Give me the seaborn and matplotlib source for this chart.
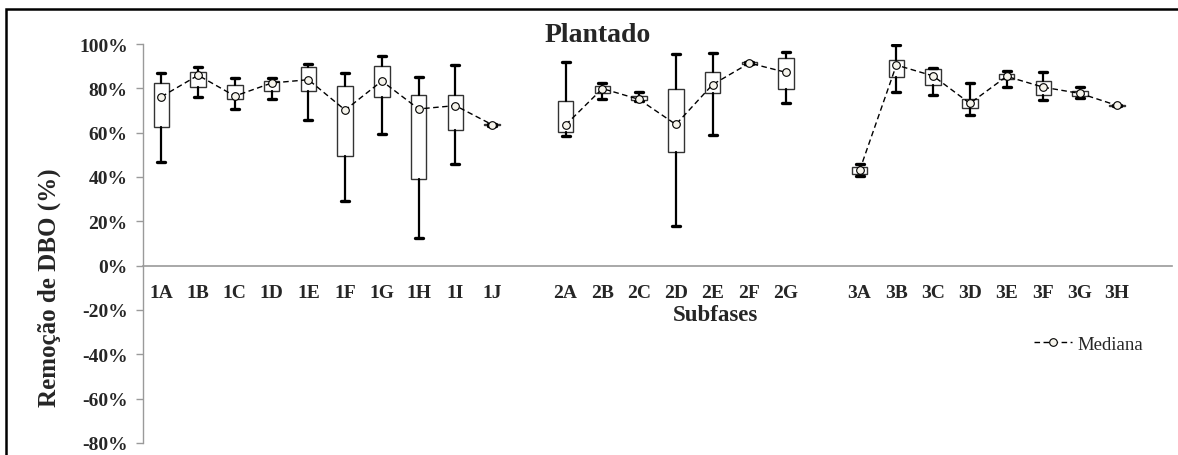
import numpy as np
import pandas as pd
import matplotlib
matplotlib.use("Agg")
import matplotlib.pyplot as plt
import seaborn as sns
from matplotlib.patches import Rectangle

# ---------------- data (values in %) ----------------
cats_1 = ["1A", "1B", "1C", "1D", "1E", "1F", "1G", "1H", "1I", "1J"]
cats_2 = ["2A", "2B", "2C", "2D", "2E", "2F", "2G"]
cats_3 = ["3A", "3B", "3C", "3D", "3E", "3F", "3G", "3H"]

min_1 = [46.9, 76.0, 70.8, 75.3, 65.6, 29.3, 59.4, 12.4, 45.7, 63.2]
q1_1 = [62.6, 80.7, 75.4, 79.0, 79.0, 49.4, 76.0, 39.1, 61.2, 63.4]
med_1 = [76.2, 85.9, 76.5, 82.4, 83.9, 70.2, 83.3, 70.7, 72.2, 63.6]
q3_1 = [82.3, 87.4, 81.4, 83.3, 89.4, 80.9, 90.0, 76.9, 76.9, 63.8]
max_1 = [87.0, 89.6, 84.7, 84.7, 91.2, 86.7, 94.6, 85.0, 90.6, 64.0]

min_2 = [58.6, 75.4, 74.1, 17.9, 59.1, 90.8, 73.4]
q1_2 = [60.3, 77.7, 74.6, 51.2, 77.7, 91.0, 79.8]
med_2 = [63.5, 79.9, 75.0, 63.7, 81.7, 91.4, 87.2]
q3_2 = [74.1, 81.1, 76.5, 79.6, 87.5, 91.8, 93.6]
max_2 = [91.7, 82.3, 78.3, 95.7, 96.0, 92.0, 96.6]

min_3 = [40.3, 78.3, 77.2, 67.9, 80.5, 74.6, 75.8, 72.0]
q1_3 = [41.5, 85.3, 81.5, 71.0, 84.1, 77.2, 76.5, 72.1]
med_3 = [43.0, 90.5, 85.6, 73.2, 85.4, 80.5, 77.7, 72.3]
q3_3 = [44.5, 93.0, 88.5, 75.4, 86.4, 83.3, 78.6, 72.5]
max_3 = [45.7, 99.6, 89.3, 82.4, 87.6, 87.2, 80.8, 72.6]

y_ticks = [-80, -60, -40, -20, 0, 20, 40, 60, 80, 100]
y_tick_labels = ["-80%", "-60%", "-40%", "-20%", "0%", "20%", "40%", "60%", "80%", "100%"]

# ---------------- table ----------------
groups = [
    (cats_1, min_1, q1_1, med_1, q3_1, max_1),
    (cats_2, min_2, q1_2, med_2, q3_2, max_2),
    (cats_3, min_3, q1_3, med_3, q3_3, max_3),
]
rows = []
start = 0
for g, (cats, mn, q1, md, q3, mx) in enumerate(groups):
    for i, c in enumerate(cats):
        rows.append(dict(cat=c, pos=start + i, grp=g, vmin=mn[i], q1=q1[i],
                         med=md[i], q3=q3[i], vmax=mx[i]))
    start += len(cats) + 1  # blank slot between groups
df = pd.DataFrame(rows)
n_slots = start - 1

# ---------------- figure ----------------
sns.set_theme(style="white")
plt.rcParams["font.family"] = ["Liberation Serif", "DejaVu Serif"]

W, H = 1178, 456
fig = plt.figure(figsize=(W / 100, H / 100), dpi=100)
ax = fig.add_axes([143 / W, 12 / H, (1172 - 143) / W, (444 - 45) / H])

stats = [dict(med=r.med, q1=r.q1, q3=r.q3, whislo=r.vmin, whishi=r.vmax, fliers=[])
         for r in df.itertuples()]
ax.bxp(stats, positions=df["pos"].to_numpy(), widths=0.42, capwidths=0.22,
       patch_artist=True, showfliers=False, manage_ticks=False,
       boxprops=dict(facecolor="white", edgecolor="#333333", linewidth=1.0),
       whiskerprops=dict(color="black", linewidth=1.6),
       capprops=dict(color="black", linewidth=2.4),
       medianprops=dict(linewidth=0))

sns.lineplot(data=df, x="pos", y="med", units="grp", estimator=None, ax=ax,
             color="black", linewidth=1.0, linestyle=(0, (4, 2.5)),
             marker="o", markersize=5.5, markerfacecolor="#f6f4ec",
             markeredgecolor="black", markeredgewidth=0.8, legend=False, zorder=4)
med_line = ax.get_lines()[-1]

# axes styling
ax.set_xlim(-0.5, n_slots + 0.5)
ax.set_ylim(-80, 100)
ax.grid(False)
for s in ["top", "right"]:
    ax.spines[s].set_visible(False)
axis_gray = "#9a9a9a"
ax.spines["left"].set_color(axis_gray)
ax.spines["bottom"].set_color(axis_gray)
ax.spines["bottom"].set_position(("data", 0))
ax.spines["left"].set_linewidth(1.0)
ax.spines["bottom"].set_linewidth(1.2)

ax.set_xticks(df["pos"].to_numpy())
ax.set_xticklabels(df["cat"].tolist(), fontsize=14, fontweight="bold")
ax.set_xticks(np.arange(-0.5, n_slots + 1, 1.0), minor=True)
ax.tick_params(axis="x", which="major", length=0, pad=13)
ax.tick_params(axis="x", which="minor", length=4, width=1, color=axis_gray, direction="out")

ax.set_yticks(y_ticks)
ax.set_yticklabels(y_tick_labels, fontsize=14, fontweight="bold")
ax.tick_params(axis="y", length=5, width=1, color=axis_gray, pad=6, left=True)

ax.set_xlabel("Subfases", fontsize=16.5, fontweight="bold")
ax.xaxis.label.set_va("center")
ax.xaxis.set_label_coords(0.556, 0.323)
ax.set_ylabel("Remoção de DBO (%)", fontsize=18, fontweight="bold")
ax.yaxis.label.set_va("center")
ax.yaxis.set_label_coords(-0.091, 0.393)

fig.text(598 / W, 1 - 35 / H, "Plantado", ha="center", va="center",
         fontsize=20, fontweight="bold")

fig.legend(handles=[med_line], labels=["Mediana"], loc="center left",
           bbox_to_anchor=(1034 / W, 1 - 345 / H), frameon=False,
           prop=dict(size=13.5), handlelength=2.0, handletextpad=0.3,
           borderpad=0, borderaxespad=0)

# outer frame
fig.patches.append(Rectangle((6 / W, -0.5), 2.0, 0.5 + 1 - 10 / H,
                             transform=fig.transFigure, fill=False,
                             edgecolor="black", linewidth=1.8))

fig.savefig("out.png", dpi=100)
